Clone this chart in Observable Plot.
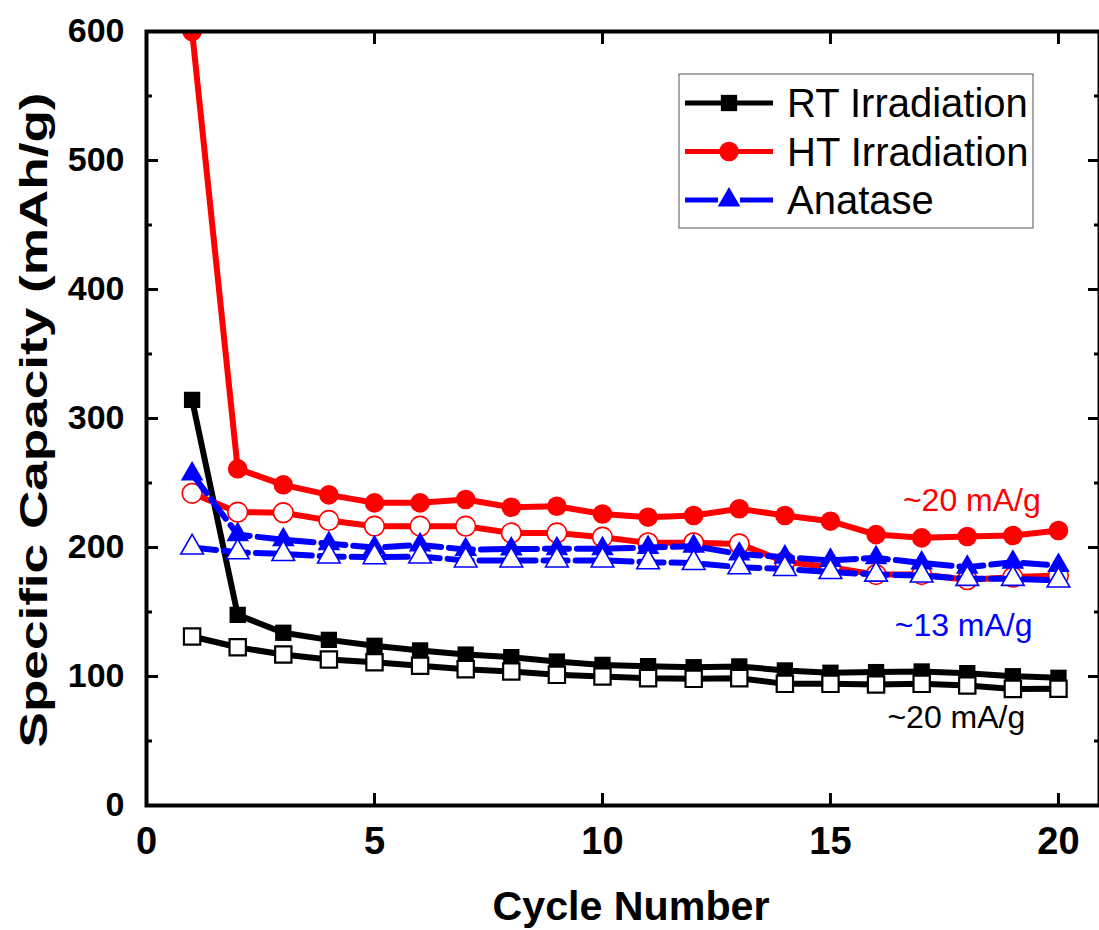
<!DOCTYPE html>
<html><head><meta charset="utf-8">
<script src="https://cdn.jsdelivr.net/npm/d3@7"></script>
<script src="https://cdn.jsdelivr.net/npm/@observablehq/plot@0.6"></script>
<style>body{margin:0;background:#fff} #chart svg{display:block}</style>
</head><body><div id="chart"></div>
<script>
const cycles = [1,2,3,4,5,6,7,8,9,10,11,12,13,14,15,16,17,18,19,20];
const rtFilled = [314.5,147.8,133.9,128.4,123.8,120.2,117,115,111.6,109,108,107.2,107.8,104.7,102.9,103.4,103.9,102.6,100.2,99];
const rtOpen = [131,122.7,117,113.2,111,108.3,105.7,103.9,101.3,100,98.7,98.2,98.7,94.3,94.3,93.8,94.3,93,90.4,90.5];
const htFilled = [600,261,248.6,240.8,234.6,234.6,237.2,231.2,232,226,223.5,224.8,230,224.8,220.4,210,207.5,208.5,209.3,213.2];
const htOpen = [242,227.4,227,221,216.5,216.5,216.5,211.3,211.3,208,203.6,203.6,202.8,189,184.7,179,179,175,177,178.3];
const anFilled = [257,210,206,203,200,202,198.4,198.8,199,199,200,201,195,192.5,190,192,188,184.7,188.6,186];
const anOpen = [200,196.3,195,193,192.5,193,190,190,190,190,188.6,188,184.7,183.4,181,179,178.3,175.7,175.7,174.4];

const seriesNames = ["RT Irradiation","HT Irradiation","Anatase"];
const seriesColors = ["#000000","#ff0000","#0000ff"];
const seriesSymbols = ["square","circle","triangle"];

const xTicks = [0,5,10,15,20];
const xTicksTop = [5,10,15,20];
const yTicks = [0,100,200,300,400,500,600];
const yMinorTicks = [50,150,250,350,450,550];

const annLabels = ["~20 mA/g","~13 mA/g","~20 mA/g"];
const annCycle = [18.1,17.92,17.76];
const annCap = [236,139.5,68.2];
const annColors = ["#ff0000","#0000ff","#000000"];

const FONT = "Arial, 'Liberation Sans', sans-serif";
const rBySymbol = {square: 9.2, circle: 9.8, triangle: 8.4};
const dashes = [null, null, "24,8"];
const openStrokeW = [2.2, 1.6, 1.6];

const toRows = (vals) => vals.map((v, i) => ({cycle: cycles[i], cap: v}));
const seriesData = [[rtFilled, rtOpen],[htFilled, htOpen],[anFilled, anOpen]];

const marks = [];
seriesData.forEach(([filled, open], k) => {
  const color = seriesColors[k], sym = seriesSymbols[k], r = rBySymbol[sym];
  for (const [vals, isOpen] of [[filled,false],[open,true]]) {
    const rows = toRows(vals);
    marks.push(Plot.line(rows, {x:"cycle", y:"cap", stroke: color, strokeWidth: 6, strokeDasharray: dashes[k] || undefined, strokeLinejoin:"round"}));
    marks.push(Plot.dot(rows, {x:"cycle", y:"cap", symbol: sym, r,
      fill: isOpen ? "#ffffff" : color,
      stroke: isOpen ? color : "none",
      strokeWidth: isOpen ? openStrokeW[k] : 0}));
  }
});

const annRows = annLabels.map((t,i) => ({t, x: annCycle[i], y: annCap[i], c: annColors[i]}));

const W = 1099, H = 930, ML = 146, MR = 0, MT = 31, MB = 125;
const chart = Plot.plot({
  width: W, height: H,
  marginTop: MT, marginBottom: MB, marginLeft: ML, marginRight: MR,
  style: {fontFamily: FONT, background: "#ffffff", color: "#000"},
  x: {domain: [0, 20.9], label: null},
  y: {domain: [0, 600], label: null},
  marks: [
    ...marks,
    Plot.text(annRows, {x:"x", y:"y", text:"t", fill:"c", fontSize: 32, textAnchor:"middle", lineAnchor:"middle"}),
    Plot.axisY({anchor:"left", ticks: yTicks, tickSize: -12, tickPadding: 34, fontSize: 34, fontWeight: "bold", strokeWidth: 3, label: null}),
    Plot.axisY({anchor:"left", ticks: yMinorTicks, tickSize: -6, tickFormat: () => "", strokeWidth: 3, label: null}),
    Plot.axisY({anchor:"right", ticks: yTicks, tickSize: -12, tickFormat: () => "", strokeWidth: 3, label: null}),
    Plot.axisY({anchor:"right", ticks: yMinorTicks, tickSize: -6, tickFormat: () => "", strokeWidth: 3, label: null}),
    Plot.axisX({anchor:"bottom", ticks: xTicks, tickSize: -12, tickPadding: 34, fontSize: 38, fontWeight: "bold", strokeWidth: 3, label: null}),
    Plot.axisX({anchor:"top", ticks: xTicksTop, tickSize: -12, tickFormat: () => "", strokeWidth: 3, label: null}),
    Plot.frame({stroke: "#000", strokeWidth: 4})
  ]
});
document.getElementById("chart").appendChild(chart);

const svg = d3.select(chart);
// clip the data marks to the plot frame
svg.append("defs").append("clipPath").attr("id","plotclip")
  .append("rect").attr("x", ML).attr("y", MT).attr("width", W - ML - MR).attr("height", H - MT - MB);
svg.selectAll("g[aria-label='dot'], g[aria-label='line']").attr("clip-path","url(#plotclip)");

// Axis titles and legend
svg.append("text").text("Cycle Number")
  .attr("x", 631).attr("y", 920).attr("text-anchor","middle")
  .attr("font-family", FONT).attr("font-weight","bold").attr("font-size", 40)
  .attr("textLength", 277).attr("lengthAdjust","spacingAndGlyphs").attr("fill","#000");
svg.append("text").text("Specific Capacity (mAh/g)")
  .attr("transform","translate(47,420) rotate(-90)").attr("text-anchor","middle")
  .attr("font-family", FONT).attr("font-weight","bold").attr("font-size", 38)
  .attr("textLength", 655).attr("lengthAdjust","spacingAndGlyphs").attr("fill","#000");

const lg = svg.append("g");
lg.append("rect").attr("x",679).attr("y",74).attr("width",354).attr("height",154)
  .attr("fill","#fff").attr("stroke","#555").attr("stroke-width",1);
const symMap = {square: d3.symbolSquare, circle: d3.symbolCircle, triangle: d3.symbolTriangle};
seriesNames.forEach((name, k) => {
  const cy = 103 + k * 48.5;
  const sym = seriesSymbols[k], r = rBySymbol[sym];
  lg.append("line").attr("x1",685).attr("x2",773).attr("y1",cy).attr("y2",cy)
    .attr("stroke", seriesColors[k]).attr("stroke-width",5)
    .attr("stroke-dasharray", k === 2 ? "33,22" : null);
  lg.append("path").attr("d", d3.symbol(symMap[sym], Math.PI * r * r)())
    .attr("transform", `translate(729,${cy})`).attr("fill", seriesColors[k]);
  lg.append("text").text(name).attr("x",787).attr("y",cy + 14).attr("text-anchor","start")
    .attr("font-family", FONT).attr("font-size", 40).attr("fill","#000");
});
</script></body></html>
